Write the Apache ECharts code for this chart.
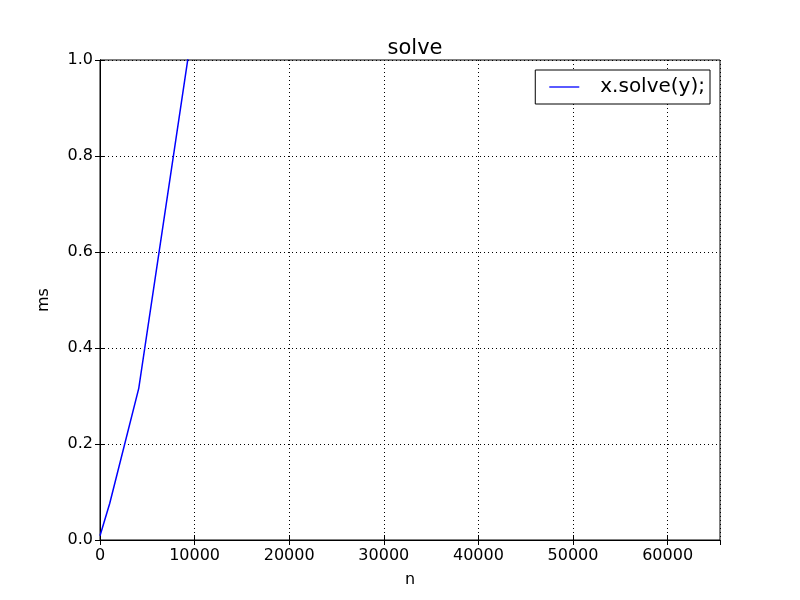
<!DOCTYPE html>
<html>
<head>
<meta charset="utf-8">
<script src="https://cdn.jsdelivr.net/npm/echarts@6/dist/echarts.min.js"></script>
<style>html,body{margin:0;padding:0;background:#fff;}#c{width:800px;height:600px;}</style>
</head>
<body>
<div id="c"></div>
<script>
const nValues = [1, 1024, 4096, 16384];
const msValues = [0.009, 0.076, 0.316, 1.94];
const seriesName = 'x.solve(y);';
const xTicks = [0, 10000, 20000, 30000, 40000, 50000, 60000];
const yTicks = [0.0, 0.2, 0.4, 0.6, 0.8, 1.0];

const FONT = 'DejaVu Sans';
const chart = echarts.init(document.getElementById('c'), null, {renderer: 'canvas'});
const tickStyle = {show: true, inside: true, length: 5, lineStyle: {color: '#000', width: 1}};
chart.setOption({
  animation: false,
  backgroundColor: '#fff',
  title: {text: 'solve', left: 410, top: 33, textAlign: 'center',
    textStyle: {fontFamily: FONT, fontSize: 21, fontWeight: 'normal', color: '#000'}},
  grid: {left: 100, right: 80, top: 60, bottom: 60, show: true, borderColor: '#000', borderWidth: 1, backgroundColor: 'transparent'},
  legend: {
    right: 90, top: 70, orient: 'horizontal',
    backgroundColor: '#fff', borderColor: '#000', borderWidth: 1, borderRadius: 0,
    padding: [7, 5, 7, 14],
    itemWidth: 30, itemHeight: 14,
    textStyle: {fontFamily: FONT, fontSize: 20, color: '#000', padding: [0, 0, 0, 16]},
    data: [{name: seriesName, icon: 'path://M0,0 L30,0 L30,1.3 L0,1.3 Z'}]
  },
  xAxis: [{
    type: 'value', min: 0, max: 65536, interval: 10000,
    name: 'n', nameLocation: 'middle', nameGap: 32,
    nameTextStyle: {fontFamily: FONT, fontSize: 16, color: '#000'},
    axisLine: {show: true, lineStyle: {color: '#000'}},
    axisTick: tickStyle,
    axisLabel: {fontFamily: FONT, fontSize: 16, color: '#000', margin: 8, showMaxLabel: false,
      formatter: v => xTicks.includes(v) ? String(v) : ''},
    splitLine: {show: true, lineStyle: {color: '#000', type: [1, 3], width: 1}}
  }, {
    type: 'value', min: 0, max: 65536, interval: 10000, position: 'top',
    axisLine: {show: true, lineStyle: {color: '#000'}},
    axisTick: tickStyle, axisLabel: {show: false}, splitLine: {show: false}
  }],
  yAxis: [{
    type: 'value', min: 0, max: 1, interval: 0.2,
    name: 'ms', nameLocation: 'middle', nameGap: 48,
    nameTextStyle: {fontFamily: FONT, fontSize: 16, color: '#000'},
    axisLine: {show: true, lineStyle: {color: '#000'}},
    axisTick: tickStyle,
    axisLabel: {fontFamily: FONT, fontSize: 16, color: '#000', margin: 7,
      formatter: v => v.toFixed(1)},
    splitLine: {show: true, lineStyle: {color: '#000', type: [1, 3], width: 1}}
  }, {
    type: 'value', min: 0, max: 1, interval: 0.2, position: 'right',
    axisLine: {show: true, lineStyle: {color: '#000'}},
    axisTick: tickStyle, axisLabel: {show: false}, splitLine: {show: false}
  }],
  series: [{
    name: seriesName, type: 'line', symbol: 'none', clip: true,
    xAxisIndex: 0, yAxisIndex: 0,
    lineStyle: {color: '#0000ff', width: 1.5}, itemStyle: {color: '#0000ff'},
    data: nValues.map((n, i) => [n, msValues[i]])
  }]
});
</script>
</body>
</html>
